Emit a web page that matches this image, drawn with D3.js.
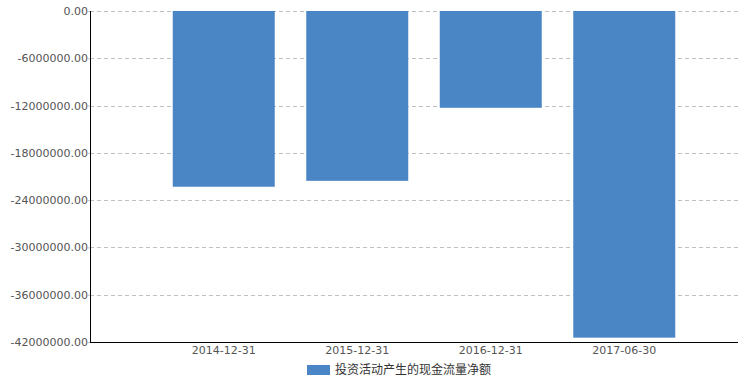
<!DOCTYPE html>
<html>
<head>
<meta charset="utf-8">
<script src="https://cdn.jsdelivr.net/npm/d3@7"></script>
<style>
  body { margin: 0; background: #fff; }
  svg { display: block; }
</style>
</head>
<body>
<div id="chart"></div>
<script>
  const categories = ["2014-12-31", "2015-12-31", "2016-12-31", "2017-06-30"];
  const values = [-22300000, -21550000, -12280000, -41450000];
  const seriesName = "投资活动产生的现金流量净额";
  const yTicks = [0, -6000000, -12000000, -18000000, -24000000, -30000000, -36000000, -42000000];

  const W = 740, H = 382;
  const margin = { top: 11, right: 0, bottom: 40, left: 90 };
  const plotH = H - margin.top - margin.bottom;

  const svg = d3.select("#chart")
    .append("svg")
    .attr("width", W)
    .attr("height", H);

  const fontFamily = "Verdana, 'DejaVu Sans', 'Noto Sans CJK SC', sans-serif";

  // Scales
  const y = d3.scaleLinear()
    .domain([0, -42000000])
    .range([margin.top, margin.top + plotH]);

  const x = d3.scaleBand()
    .domain(categories)
    .range([157, 691])
    .paddingInner(0.236)
    .paddingOuter(0.118);

  // Grid lines
  svg.append("g")
    .selectAll("line")
    .data(yTicks)
    .enter()
    .append("line")
    .attr("x1", margin.left)
    .attr("x2", W)
    .attr("y1", d => Math.round(y(d)) + 0.5)
    .attr("y2", d => Math.round(y(d)) + 0.5)
    .attr("stroke", "#c0c0c0")
    .attr("stroke-dasharray", "4,3");

  // Bars
  svg.append("g")
    .selectAll("rect")
    .data(values)
    .enter()
    .append("rect")
    .attr("x", (d, i) => x(categories[i]))
    .attr("y", d => y(0))
    .attr("width", x.bandwidth())
    .attr("height", d => y(d) - y(0))
    .attr("fill", "#4a86c5");

  // Y axis
  const yAxis = svg.append("g")
    .attr("transform", `translate(${margin.left},0)`)
    .call(d3.axisLeft(y).tickValues(yTicks).tickSize(2).tickFormat(d => d3.format(".2f")(d).replace("−", "-")));
  yAxis.select(".domain").remove();
  yAxis.selectAll(".tick line").attr("stroke", "#c0c0c0");
  yAxis.selectAll("text")
    .attr("x", -2)
    .attr("fill", "#555")
    .style("font-family", fontFamily)
    .style("font-size", "11px");

  svg.append("line")
    .attr("x1", margin.left + 0.5).attr("x2", margin.left + 0.5)
    .attr("y1", margin.top).attr("y2", margin.top + plotH)
    .attr("stroke", "#000").attr("stroke-width", 1);

  // X axis
  const xAxis = svg.append("g")
    .attr("transform", `translate(0,${margin.top + plotH})`)
    .call(d3.axisBottom(x).tickSize(0).tickPadding(4));
  xAxis.select(".domain").remove();
  xAxis.selectAll("text")
    .attr("fill", "#555")
    .style("font-family", fontFamily)
    .style("font-size", "11px");

  svg.append("line")
    .attr("x1", margin.left).attr("x2", 738)
    .attr("y1", margin.top + plotH + 0.5).attr("y2", margin.top + plotH + 0.5)
    .attr("stroke", "#000").attr("stroke-width", 1);

  // Legend
  const legend = svg.append("g").attr("transform", "translate(307,365)");
  legend.append("rect")
    .attr("width", 23).attr("height", 10)
    .attr("fill", "#4a86c5");
  legend.append("text")
    .attr("x", 28).attr("y", 5)
    .attr("dy", "0.35em")
    .attr("fill", "#333")
    .style("font-family", "'Noto Sans CJK SC', sans-serif")
    .style("font-size", "12px")
    .text(seriesName);
</script>
</body>
</html>
